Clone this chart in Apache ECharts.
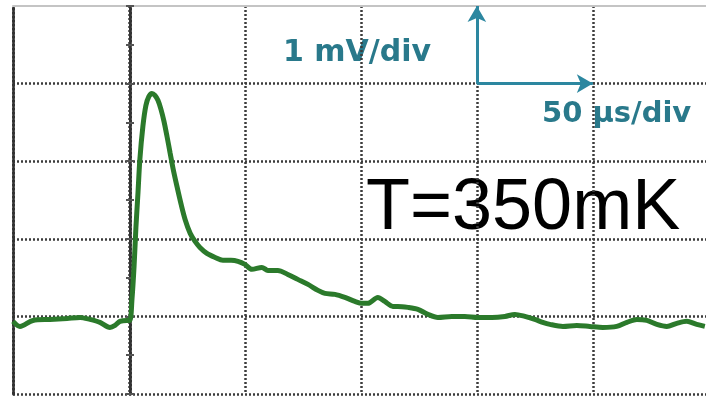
<!DOCTYPE html>
<html>
<head>
<meta charset="utf-8">
<script src="https://cdn.jsdelivr.net/npm/echarts@6/dist/echarts.min.js"></script>
<style>
  html, body { margin: 0; padding: 0; background: #ffffff; }
  #chart { width: 706px; height: 396px; }
</style>
</head>
<body>
<div id="chart"></div>
<script>
// Scope trace: time in µs (50 µs/div), amplitude in mV (1 mV/div)
const timeUs = [
  0, 3.0, 8.6, 15.9, 23.3, 28.9, 33.2, 37.5, 41.8, 44.0, 46.1, 49.1,
  50.4, 51.3, 52.2, 53.0, 53.9, 54.7, 56.0, 57.3, 58.6, 59.9, 61.2, 62.5,
  63.8, 65.1, 66.4, 67.7, 69.0, 70.7, 72.5, 74.2, 76.4, 78.5, 80.6, 83.6, 87.1,
  90.5, 94.0, 97.0, 100.0, 103.0, 107.3, 109.9, 114.2, 118.5, 122.8, 127.2, 131.5,
  134.5, 138.8, 143.1, 147.4, 150.4, 153.0, 157.3, 160.3, 163.8, 165.9, 170.3, 174.6,
  178.9, 183.2, 189.2, 194.8, 200.4, 206.5, 212.1, 216.4, 220.7, 225.0, 228.4, 231.5,
  237.1, 243.1, 248.7, 254.3, 260.3, 264.7, 269.0, 273.3, 277.6, 281.9, 286.2, 290.5,
  294.8, 298.3
];
const signalMv = [
  -0.064, -0.129, -0.052, -0.039, -0.026, -0.013, -0.039, -0.077, -0.142, -0.116, -0.064, -0.052,
  -0.052, 0.219, 0.644, 1.147, 1.598, 2.023, 2.449, 2.719, 2.835, 2.874, 2.848, 2.784,
  2.668, 2.513, 2.320, 2.113, 1.907, 1.675, 1.443, 1.250, 1.070, 0.966, 0.889, 0.812, 0.760,
  0.722, 0.722, 0.709, 0.670, 0.606, 0.631, 0.593, 0.593, 0.541, 0.477, 0.412, 0.335,
  0.296, 0.284, 0.245, 0.193, 0.168, 0.168, 0.245, 0.193, 0.129, 0.129, 0.116, 0.090,
  0.026, -0.013, 0, 0, -0.013, -0.013, 0, 0.026, 0, -0.039, -0.077, -0.103,
  -0.129, -0.116, -0.129, -0.142, -0.129, -0.077, -0.039, -0.052, -0.103, -0.129, -0.090, -0.064,
  -0.103, -0.129
];

// Screen divisions: the visible window ends just short of the 6th division
const xRange = [0, 298.8]; // µs
const xDiv = 50;
const yRange = [-1, 4];    // mV
const yDiv = 1;

// Scale-indicator arrows (one division each)
const arrowOrigin = [200, 3];
const arrowUpEnd = [200, 4];
const arrowRightEnd = [250, 3];

const labelVert = '1 mV/div';
const labelHoriz = '50 µs/div';
const labelTemp = 'T=350mK';

const gridColor = '#3c3c3c';
const teal = '#29798b';
const arrowTeal = '#2c87a0';

const chart = echarts.init(document.getElementById('chart'), null, { renderer: 'canvas' });

const points = timeUs.map((t, i) => [t, signalMv[i]]);

const dotted = { color: gridColor, width: 2.5, type: [2, 2] };

chart.setOption({
  animation: false,
  backgroundColor: '#ffffff',
  grid: { left: 13, right: 0, top: 6, bottom: 2, containLabel: false },
  xAxis: [
    {
      type: 'value', min: xRange[0], max: xRange[1], interval: xDiv,
      axisLine: { show: false }, axisTick: { show: false }, axisLabel: { show: false },
      splitLine: { show: true, showMinLine: false, showMaxLine: false, lineStyle: dotted }
    },
    {
      type: 'value', position: 'top', min: xRange[0], max: xRange[1], interval: xDiv,
      axisLine: { show: true, onZero: false, lineStyle: { color: '#c4c4c4', width: 2 } },
      axisTick: { show: false }, axisLabel: { show: false }, splitLine: { show: false }
    }
  ],
  yAxis: [
    {
      type: 'value', min: yRange[0], max: yRange[1], interval: yDiv,
      axisLine: { show: true, onZero: false, lineStyle: { color: '#333', width: 3, type: [2, 2] } },
      axisTick: { show: false }, axisLabel: { show: false },
      splitLine: { show: true, showMaxLine: false, lineStyle: dotted }
    },
    {
      // trigger line ticks, outside half
      type: 'value', position: 'left', offset: -117,
      min: yRange[0], max: yRange[1], interval: yDiv / 2,
      axisLine: { show: true, onZero: false, lineStyle: { color: '#333', width: 3, type: [2, 2] } },
      axisTick: { show: true, inside: false, length: 4, lineStyle: { color: '#555', width: 2 } },
      axisLabel: { show: false }, splitLine: { show: false }
    },
    {
      // trigger line ticks, inside half
      type: 'value', position: 'left', offset: -117,
      min: yRange[0], max: yRange[1], interval: yDiv / 2,
      axisLine: { show: false, onZero: false },
      axisTick: { show: true, inside: true, length: 4, lineStyle: { color: '#555', width: 2 } },
      axisLabel: { show: false }, splitLine: { show: false }
    }
  ],
  graphic: [
    {
      type: 'text', left: 283, top: 38, silent: true,
      style: { text: labelVert, fill: teal, font: 'bold 30px "DejaVu Sans"' }
    },
    {
      type: 'text', left: 542, top: 100, silent: true,
      style: { text: labelHoriz, fill: teal, font: 'bold 29px "DejaVu Sans"' }
    },
    {
      type: 'text', left: 366, top: 173, silent: true,
      style: { text: labelTemp, fill: '#000000', font: '72px "Liberation Sans"' }
    }
  ],
  series: [
    {
      type: 'line',
      data: points,
      showSymbol: false,
      smooth: 0.3,
      clip: true,
      lineStyle: { color: '#2b7a2b', width: 5 },
      markLine: {
        silent: true,
        symbol: ['none', 'arrow'],
        symbolSize: [14, 16],
        label: { show: false },
        lineStyle: { color: arrowTeal, width: 3, type: 'solid' },
        data: [
          [{ coord: arrowOrigin }, { coord: arrowUpEnd }],
          [{ coord: arrowOrigin }, { coord: arrowRightEnd }]
        ]
      }
    }
  ]
});
</script>
</body>
</html>
